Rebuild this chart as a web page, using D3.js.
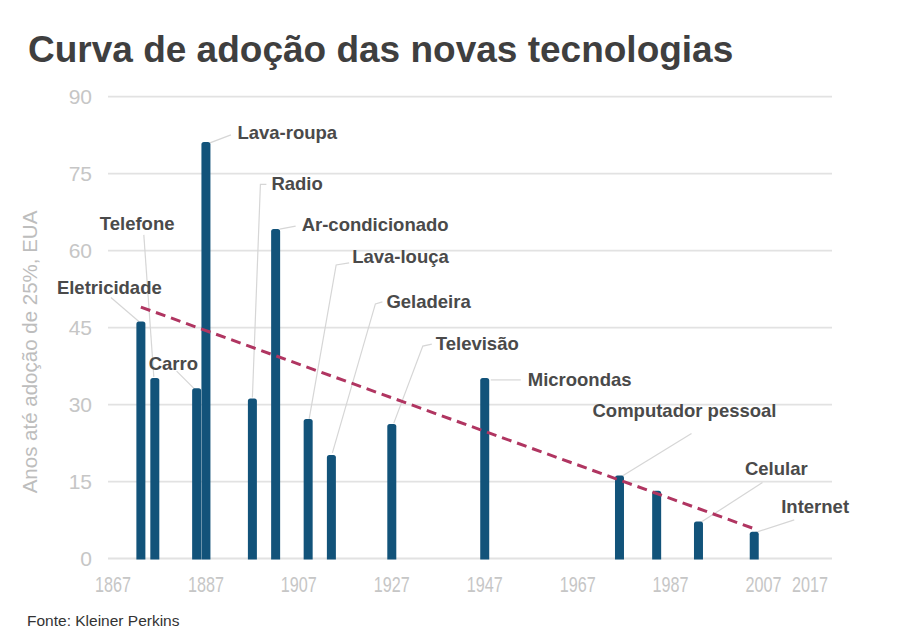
<!DOCTYPE html>
<html>
<head>
<meta charset="utf-8">
<script src="https://cdn.jsdelivr.net/npm/d3@7"></script>
<style>
  html, body { margin: 0; padding: 0; background: #fff; }
  svg { display: block; }
</style>
</head>
<body>
<div id="chart"></div>
<script>
// ---- Data ----
const technologies = ["Eletricidade","Telefone","Carro","Lava-roupa","Radio","Ar-condicionado","Lava-louça","Geladeira","Televisão","Microondas","Computador pessoal","","Celular","Internet"];
const inventionYears = [1873,1876,1885,1887,1897,1902,1909,1914,1927,1947,1976,1984,1993,2005];
const yearsToAdoption = [46,35,33,81,31,64,27,20,26,35,16,13,7,5];
const trendYears = [1873, 2005];
const trendValues = [49, 5.8];
const xTicks = [1867,1887,1907,1927,1947,1967,1987,2007,2017];
const yTicks = [0,15,30,45,60,75,90];

// ---- Label layout (pixel offsets from each bar top; presentation only) ----
const labelLayout = [
  {text:[-84,-35], leader:[[-2,-1],[-30,-25]]},
  {text:[-55,-155], leader:[[-1,-2],[-11,-144]]},
  {text:[-48,-26], leader:[[-2,0],[-20,-18]]},
  {text:[31.5,-10], leader:[[4,0],[25,-8]]},
  {text:[19,-215.5], leader:[[0,-2],[8,-215],[14,-215]]},
  {text:[26,-6], leader:[[4,-1],[20,-4]]},
  {text:[44,-163], leader:[[1,-1],[28,-155],[41,-157]]},
  {text:[55,-154], leader:[[1,-3],[44,-152],[51,-154]]},
  {text:[44,-82], leader:[[2,-2],[31,-79],[40,-81]]},
  {text:[43,1], leader:[[6,1],[36,1]]},
  {text:[-27,-66], leader:[[2,0],[72,-43]]},
  null,
  {text:[46.5,-53.6], leader:[[2,0],[64,-40]]},
  {text:[27,-26], leader:[[0,0],[40,-13]]}
];

const W = 901, H = 641;
const svg = d3.select("#chart").append("svg").attr("width", W).attr("height", H);

const x = d3.scaleLinear().domain([1867, 2017]).range([113, 810]);
const y = d3.scaleLinear().domain([0, 90]).range([558.5, 96.7]);
const gridX0 = 108, gridX1 = 832;

// Title
svg.append("text")
  .attr("x", 28).attr("y", 62)
  .attr("font-family", "'Liberation Sans', Arial, sans-serif")
  .attr("font-weight", "bold").attr("font-size", 37)
  .attr("fill", "#3f3f3f")
  .text("Curva de adoção das novas tecnologias");

// Gridlines
svg.append("g").selectAll("line").data(yTicks).join("line")
  .attr("x1", gridX0).attr("x2", gridX1)
  .attr("y1", d => y(d)).attr("y2", d => y(d))
  .attr("stroke", "#e2e2e2").attr("stroke-width", 1.8);

// Y tick labels
svg.append("g").selectAll("text").data(yTicks).join("text")
  .attr("x", 92).attr("y", d => y(d) + 7.5)
  .attr("text-anchor", "end")
  .attr("font-family", "'Liberation Sans', Arial, sans-serif")
  .attr("font-size", 21).attr("fill", "#c6c6c6")
  .text(d => d);

// X tick labels (condensed)
svg.append("g").selectAll("text").data(xTicks).join("text")
  .attr("x", d => x(d)).attr("y", 592)
  .attr("text-anchor", "middle")
  .attr("font-family", "'Liberation Sans', Arial, sans-serif")
  .attr("font-size", 22).attr("fill", "#c6c6c6")
  .attr("textLength", 36).attr("lengthAdjust", "spacingAndGlyphs")
  .text(d => d);

// Y axis title
svg.append("text")
  .attr("transform", `translate(37, 352) rotate(-90)`)
  .attr("text-anchor", "middle")
  .attr("font-family", "'Liberation Sans', Arial, sans-serif")
  .attr("font-size", 20.5).attr("fill", "#bdbdbd")
  .text("Anos até adoção de 25%, EUA");

const rows = technologies.map((t, i) => ({name: t, year: inventionYears[i], value: yearsToAdoption[i], layout: labelLayout[i]}));

// Leader lines
const lineGen = d3.line();
svg.append("g").selectAll("path").data(rows.filter(r => r.layout)).join("path")
  .attr("d", r => lineGen(r.layout.leader.map(p => [x(r.year) + p[0], y(r.value) + p[1]])))
  .attr("fill", "none").attr("stroke", "#d6d6d6").attr("stroke-width", 1.2);

// Bars (rounded top)
const bw = 9;
svg.append("g").selectAll("path").data(rows).join("path")
  .attr("d", r => {
    const cx = x(r.year), top = y(r.value) - 1, bot = y(0) + 1, rr = 2.5;
    const l = cx - bw / 2, rgt = cx + bw / 2;
    return `M${l},${bot}L${l},${top + rr}Q${l},${top} ${l + rr},${top}L${rgt - rr},${top}Q${rgt},${top} ${rgt},${top + rr}L${rgt},${bot}Z`;
  })
  .attr("fill", "#12537a");

// Trend line
svg.append("line")
  .attr("x1", x(trendYears[0])).attr("y1", y(trendValues[0]))
  .attr("x2", x(trendYears[1])).attr("y2", y(trendValues[1]))
  .attr("stroke", "#b03561").attr("stroke-width", 3)
  .attr("stroke-dasharray", "10,6");

// Labels
svg.append("g").selectAll("text").data(rows.filter(r => r.layout)).join("text")
  .attr("x", r => x(r.year) + r.layout.text[0])
  .attr("y", r => y(r.value) + r.layout.text[1] + 6.5)
  .attr("font-family", "'Liberation Sans', Arial, sans-serif")
  .attr("font-weight", "bold").attr("font-size", 18.5)
  .attr("fill", "#4a4a4a")
  .text(r => r.name);

// Source
svg.append("text")
  .attr("x", 27).attr("y", 626)
  .attr("font-family", "'Liberation Sans', Arial, sans-serif")
  .attr("font-size", 15.5).attr("fill", "#333")
  .text("Fonte: Kleiner Perkins");
</script>
</body>
</html>
